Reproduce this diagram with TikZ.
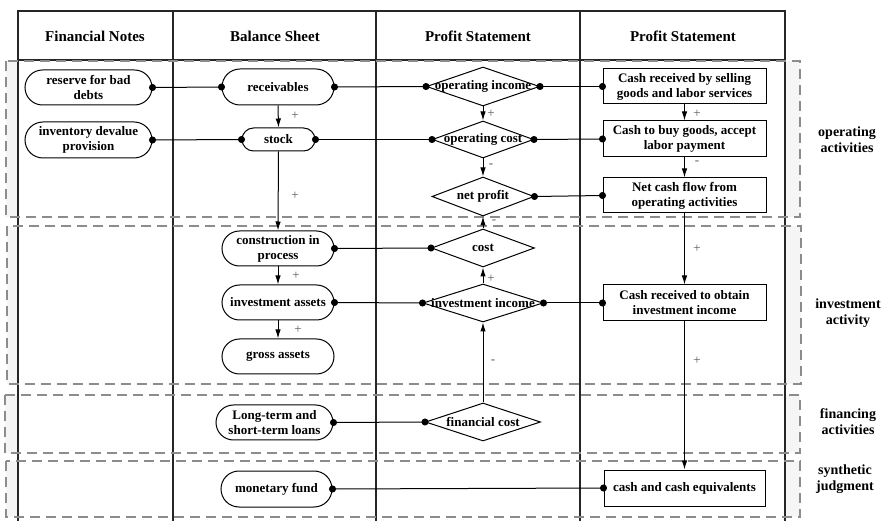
\documentclass[tikz,border=0pt]{standalone}
\usepackage{fontspec}
\setmainfont{Liberation Serif}
\usetikzlibrary{shapes.geometric,shapes.misc,arrows.meta}
\begin{document}
\begin{tikzpicture}[x=1pt,y=-1pt,
  txt/.style={font=\fontsize{13}{15}\selectfont\bfseries, align=center, inner sep=0pt},
  pill/.style={txt, draw, line width=1pt, rounded rectangle, minimum height=#1},
  pill/.default=35pt,
  dia/.style={draw, line width=1pt, diamond, inner sep=0pt, minimum width=#1},
  box/.style={txt, draw, line width=1pt, rectangle, minimum width=163pt, minimum height=35pt},
  dotline/.style={line width=1pt, {Circle[length=7pt]}-{Circle[length=7pt]}, shorten <=-3.5pt, shorten >=-3.5pt},
  arr/.style={line width=1pt, -{Latex[length=9pt,width=5.5pt]}},
  sgn/.style={font=\fontsize{13}{14}\selectfont, text=black!65, inner sep=0pt},
  hdr/.style={font=\fontsize{15}{17}\selectfont\bfseries, inner sep=0pt},
  side/.style={font=\fontsize{14}{16}\selectfont\bfseries, align=center, inner sep=0pt},
  grp/.style={draw=black!45, line width=1.2pt, dash pattern=on 10pt off 6pt},
  tline/.style={line width=1.2pt, draw=black!85}
]
\useasboundingbox (0,0) rectangle (887,521);
\fill[white] (0,0) rectangle (887,521);
% group backgrounds
\fill[black!4] (6,61) rectangle (800,217);
\fill[black!4] (7,226) rectangle (801,384);
\fill[black!4] (5,395) rectangle (800,453);
\fill[black!4] (6,461) rectangle (800,517);
\fill[white] (18,11) rectangle (785,521);
% table
\draw[tline] (18,521) -- (18,11) -- (785,11) -- (785,521);
\draw[tline] (18,60) -- (785,60);
\draw[tline, line width=1.8pt] (173,11) -- (173,521);
\draw[tline] (376,11) -- (376,521);
\draw[tline] (580,11) -- (580,521);
% headers
\node[hdr] (h1) at (95,36) {Financial Notes};
\node[hdr] (h2) at (275,36) {Balance Sheet};
\node[hdr] (h3) at (478,36) {Profit Statement};
\node[hdr] (h4) at (683,36) {Profit Statement};
% group frames
\draw[grp] (6,61) rectangle (800,217);
\draw[grp] (7,226) rectangle (801,384);
\draw[grp] (5,395) rectangle (800,453);
\draw[grp] (6,461) rectangle (800,517);
% side labels
\node[side] (s1) at (847,140) {operating\\activities};
\node[side] (s2) at (848,313) {investment\\activity};
\node[side] (s3) at (848,422) {financing\\activities};
\node[side] (s4) at (845,479) {synthetic\\judgment};
% column 1
\node[pill, minimum width=127pt] (rb) at (88.5,87.5) {reserve for bad\\debts};
\node[pill=36pt, minimum width=127pt] (idp) at (88.5,140) {inventory devalue\\provision};
% column 2
\node[pill=36pt, minimum width=112pt] (rec) at (278,87) {receivables};
\node[pill=23pt, minimum width=73pt] (stk) at (278.5,139.5) {stock};
\node[pill, minimum width=112pt] (cip) at (278,248.5) {construction in\\process};
\node[pill, minimum width=112pt] (ia) at (278,302.5) {investment assets};
\node[pill, minimum width=112pt] (ga) at (278,356.5) {gross assets};
\node[pill, minimum width=117pt] (ltl) at (274.5,422.5) {Long-term and\\short-term loans};
\node[pill=36pt, minimum width=111pt] (mf) at (276.5,489) {monetary fund};
% column 3 diamonds
\node[dia=113pt, minimum height=39pt, label={[txt]center:operating income}] (oi) at (483,86.5) {};
\node[dia=101pt, minimum height=37pt, label={[txt]center:operating cost}] (oc) at (483,139.5) {};
\node[dia=102pt, minimum height=39pt, label={[txt]center:net profit}] (np) at (483,196.5) {};
\node[dia=103pt, minimum height=38pt, label={[txt]center:cost}] (cst) at (483,248) {};
\node[dia=120pt, minimum height=38pt, label={[txt]center:investment income}] (ii) at (483,303) {};
\node[dia=115pt, minimum height=38pt, label={[txt]center:financial cost}] (fc) at (483,422) {};
% column 4 boxes
\node[box] (r1) at (684.5,86.5) {Cash received by selling\\goods and labor services};
\node[box, minimum height=36pt] (r2) at (684.5,139) {Cash to buy goods, accept\\labor payment};
\node[box] (r3) at (684.5,195.5) {Net cash flow from\\operating activities};
\node[box, minimum height=36pt] (r4) at (684.5,303) {Cash received to obtain\\investment income};
\node[box, minimum width=161pt, minimum height=36pt] (r5) at (684.5,488) {cash and cash equivalents};
% dot connectors
\draw[dotline] (rb.east) -- (rec.west);
\draw[dotline] (idp.east) -- (stk.west);
\draw[dotline] (rec.east) -- (oi.west);
\draw[dotline] (stk.east) -- (oc.west);
\draw[dotline] (oi.east) -- (r1.west);
\draw[dotline] (oc.east) -- (r2.west);
\draw[dotline] (np.east) -- (r3.west);
\draw[dotline] (cip.east) -- (cst.west);
\draw[dotline] (ia.east) -- (ii.west);
\draw[dotline] (ii.east) -- (r4.west);
\draw[dotline] (ltl.east) -- (fc.west);
\draw[dotline] (mf.east) -- (r5.west);
% arrows
\draw[arr] (rec.south) -- (stk.north);
\draw[arr] (stk.south) -- (cip.north);
\draw[arr] (cip.south) -- (ia.north);
\draw[arr] (ia.south) -- (ga.north);
\draw[arr] (oi.south) -- (oc.north);
\draw[arr] (oc.south) -- (np.north);
\draw[arr] (cst.north) -- (np.south);
\draw[arr] (ii.north) -- (cst.south);
\draw[arr] (fc.north) -- (ii.south);
\draw[arr] (r1.south) -- (r2.north);
\draw[arr] (r2.south) -- (r3.north);
\draw[arr] (r3.south) -- (r4.north);
\draw[arr] (r4.south) -- (r5.north);
% signs
\node[sgn] (p1) at (295,116) {+};
\node[sgn] (p2) at (295,196) {+};
\node[sgn] (p3) at (296,276) {+};
\node[sgn] (p4) at (298,330) {+};
\node[sgn] (p5) at (491,114) {+};
\node[sgn] (m1) at (491,166) {-};
\node[sgn] (m2) at (494,222) {-};
\node[sgn] (p6) at (491,279) {+};
\node[sgn] (m3) at (493,362) {-};
\node[sgn] (p7) at (697,114) {+};
\node[sgn] (m4) at (697,163) {-};
\node[sgn] (p8) at (697,249) {+};
\node[sgn] (p9) at (697,361) {+};
\end{tikzpicture}
\end{document}
